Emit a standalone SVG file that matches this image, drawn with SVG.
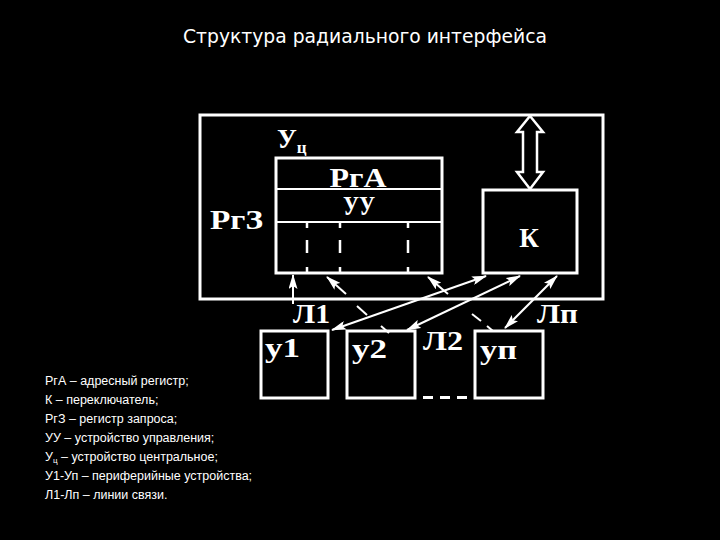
<svg xmlns="http://www.w3.org/2000/svg" width="720" height="540" viewBox="0 0 720 540">
<defs>
<style>
.box{fill:none;stroke:#fff;stroke-width:3}
.ln{stroke:#fff;stroke-width:2;fill:none}
.dv{stroke:#fff;stroke-width:2.5;stroke-dasharray:6 12 13 14 6}
.lb{font-family:"Liberation Serif","Times New Roman",serif;fill:#fff;font-size:27px;font-weight:bold}
.lg{font-family:"Liberation Sans",Arial,sans-serif;fill:#fff;font-size:12.5px}
.tt{font-family:"DejaVu Sans","Open Sans",sans-serif;fill:#fff;font-size:19px}
</style>
<marker id="ah" viewBox="0 0 15 9" refX="14" refY="4.5" markerWidth="15" markerHeight="9" markerUnits="userSpaceOnUse" orient="auto-start-reverse">
<path d="M0,0 L15,4.5 L0,9 L3,4.5 z" fill="#fff"/>
</marker>
</defs>
<rect width="720" height="540" fill="#000"/>
<text class="tt" x="365" y="43" text-anchor="middle" textLength="364" lengthAdjust="spacingAndGlyphs">Структура радиального интерфейса</text>

<g id="uc">
<rect class="box" x="200" y="115" width="403" height="184"/>
<text class="lb" x="277" y="148" font-size="26">У<tspan font-size="17" dy="5">ц</tspan></text>
<text class="lb" x="210" y="229" font-size="30" textLength="53" lengthAdjust="spacingAndGlyphs">РгЗ</text>
</g>
<g id="block">
<rect class="box" x="276" y="158" width="166" height="115"/>
<line class="ln" x1="276" y1="189" x2="442" y2="189" stroke-width="3"/>
<line class="ln" x1="276" y1="222" x2="442" y2="222" stroke-width="3"/>
<line class="dv" x1="307" y1="222" x2="307" y2="273"/>
<line class="dv" x1="340" y1="222" x2="340" y2="273"/>
<line class="dv" x1="408" y1="222" x2="408" y2="273"/>
<text class="lb" x="358" y="187" text-anchor="middle" textLength="57" lengthAdjust="spacingAndGlyphs">РгА</text>
<text class="lb" x="359" y="215" text-anchor="middle" font-size="25" textLength="32" lengthAdjust="spacingAndGlyphs">УУ</text>
</g>
<g id="k">
<rect class="box" x="483" y="190" width="94" height="83"/>
<text class="lb" x="529" y="247" text-anchor="middle" font-size="27">К</text>
</g>
<g id="bus">
<polygon points="530,116 543,132 537,132 537,172 543,172 530,189 517,172 523,172 523,132 517,132" fill="#000" stroke="#fff" stroke-width="2.5" stroke-linejoin="miter"/>
</g>
<g id="y1">
<rect class="box" x="261" y="331" width="67" height="67"/>
<text class="lb" x="265" y="357" textLength="35" lengthAdjust="spacingAndGlyphs">у1</text>
</g>
<g id="y2">
<rect class="box" x="347" y="331" width="68" height="67"/>
<text class="lb" x="352" y="358" textLength="35" lengthAdjust="spacingAndGlyphs">у2</text>
</g>
<g id="yn">
<rect class="box" x="475" y="331" width="68" height="67"/>
<text class="lb" x="480" y="359" textLength="37" lengthAdjust="spacingAndGlyphs">уп</text>
</g>
<g id="labels">
<text class="lb" x="293" y="323" textLength="37" lengthAdjust="spacingAndGlyphs">Л1</text>
<text class="lb" x="423" y="350" textLength="40" lengthAdjust="spacingAndGlyphs">Л2</text>
<text class="lb" x="537" y="323" textLength="41" lengthAdjust="spacingAndGlyphs">Лп</text>
<g fill="#fff">
<rect x="423" y="396" width="10" height="3"/>
<rect x="440" y="396" width="10" height="3"/>
<rect x="457" y="396" width="10" height="3"/>
</g>
</g>
<g id="connectors">
<line class="ln" x1="293" y1="304" x2="293" y2="275" marker-end="url(#ah)"/>
<line class="ln" x1="346" y1="294" x2="327" y2="277" marker-end="url(#ah)"/>
<line class="ln" x1="357" y1="306" x2="367" y2="315"/>
<line class="ln" x1="381" y1="326" x2="389" y2="333"/>
<line class="ln" x1="448" y1="294" x2="428" y2="277" marker-end="url(#ah)"/>
<line class="ln" x1="472" y1="314" x2="481" y2="321"/>
<line class="ln" x1="487" y1="326" x2="493" y2="331"/>
<line class="ln" x1="332" y1="330" x2="486" y2="276" marker-start="url(#ah)" marker-end="url(#ah)"/>
<line class="ln" x1="407" y1="330" x2="520" y2="276" marker-start="url(#ah)" marker-end="url(#ah)"/>
<line class="ln" x1="505" y1="328" x2="557" y2="276" marker-start="url(#ah)" marker-end="url(#ah)"/>
</g>
<g id="legend">
<text class="lg" x="45" y="385">РгА – адресный регистр;</text>
<text class="lg" x="45" y="404">К – переключатель;</text>
<text class="lg" x="45" y="423">РгЗ – регистр запроса;</text>
<text class="lg" x="45" y="442">УУ – устройство управления;</text>
<text class="lg" x="45" y="461">У<tspan font-size="8" dy="2">ц</tspan><tspan dy="-2"> – устройство центральное;</tspan></text>
<text class="lg" x="45" y="480">У1-Уп – периферийные устройства;</text>
<text class="lg" x="45" y="499">Л1-Лп – линии связи.</text>
</g>
</svg>
